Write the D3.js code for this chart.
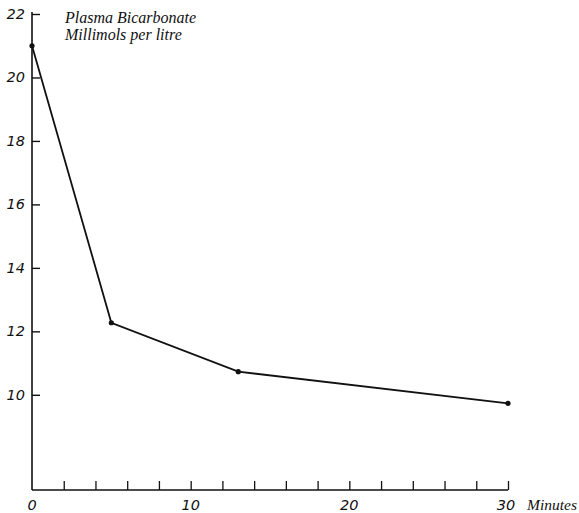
<!DOCTYPE html>
<html><head><meta charset="utf-8">
<script src="https://cdn.jsdelivr.net/npm/d3@7"></script>
<style>
html,body{margin:0;padding:0;background:#fff;}
svg{display:block;}
</style></head>
<body>
<svg id="chart" width="579" height="513"></svg>
<script>
const minutes = [0, 5, 13, 30];
const bicarbonate = [21.0, 12.27, 10.73, 9.73];
const yTickValues = [10, 12, 14, 16, 18, 20, 22];
const xLabelValues = [0, 10, 20, 30];
const xTickValues = [2,4,6,8,10,12,14,16,18,20,22,24,26,28,30];
const titleLines = ["Plasma Bicarbonate", "Millimols per litre"];
const xUnitLabel = "Minutes";

const svg = d3.select("#chart");
const x = d3.scaleLinear().domain([0, 30]).range([32, 508]);
const y = d3.scaleLinear().domain([7, 22]).range([490, 14]);
const ink = "#111";

// axes lines
svg.append("line").attr("x1", x(0)).attr("x2", x(0)).attr("y1", y(22) - 2).attr("y2", y(7))
  .attr("stroke", ink).attr("stroke-width", 1.6);
svg.append("line").attr("x1", x(0)).attr("x2", x(30)).attr("y1", y(7)).attr("y2", y(7))
  .attr("stroke", ink).attr("stroke-width", 1.6);

// y ticks (inside, to the right)
const yAxis = d3.axisRight(y).tickValues(yTickValues).tickSize(8).tickFormat("");
const gy = svg.append("g").attr("transform", `translate(${x(0)},0)`).call(yAxis);
gy.select(".domain").remove();
gy.selectAll(".tick line").attr("stroke", ink).attr("stroke-width", 1.4);

// y labels
svg.append("g").selectAll("text").data(yTickValues).join("text")
  .attr("x", 25).attr("y", d => y(d) + 5)
  .attr("text-anchor", "end")
  .style("font-family", "'DejaVu Sans', sans-serif").style("font-style", "italic")
  .style("font-size", "14.5px").attr("fill", ink)
  .text(d => d);

// x ticks (upward)
const xAxis = d3.axisTop(x).tickValues(xTickValues).tickSize(9).tickFormat("");
const gx = svg.append("g").attr("transform", `translate(0,${y(7)})`).call(xAxis);
gx.select(".domain").remove();
gx.selectAll(".tick line").attr("stroke", ink).attr("stroke-width", 1.3);

// x labels
svg.append("g").selectAll("text").data(xLabelValues).join("text")
  .attr("x", d => x(d) - (d === 30 ? 2 : 0)).attr("y", y(7) + 20)
  .attr("text-anchor", "middle")
  .style("font-family", "'DejaVu Sans', sans-serif").style("font-style", "italic")
  .style("font-size", "14.5px").attr("fill", ink)
  .text(d => d);

svg.append("text").attr("x", 527).attr("y", y(7) + 20)
  .style("font-family", "'Liberation Serif', serif").style("font-style", "italic")
  .style("font-size", "15.5px").attr("fill", ink).text(xUnitLabel);

// title
svg.append("g").selectAll("text").data(titleLines).join("text")
  .attr("x", 65).attr("y", (d, i) => 23 + i * 17)
  .style("font-family", "'Liberation Serif', serif").style("font-style", "italic")
  .style("font-size", "16px").attr("fill", ink)
  .text(d => d);

// line
const pts = minutes.map((m, i) => [m, bicarbonate[i]]);
svg.append("path").datum(pts)
  .attr("d", d3.line().x(d => x(d[0])).y(d => y(d[1])))
  .attr("fill", "none").attr("stroke", ink).attr("stroke-width", 1.8);

svg.append("g").selectAll("circle").data(pts).join("circle")
  .attr("cx", d => x(d[0])).attr("cy", d => y(d[1])).attr("r", 2.6).attr("fill", ink);
</script>
</body></html>
